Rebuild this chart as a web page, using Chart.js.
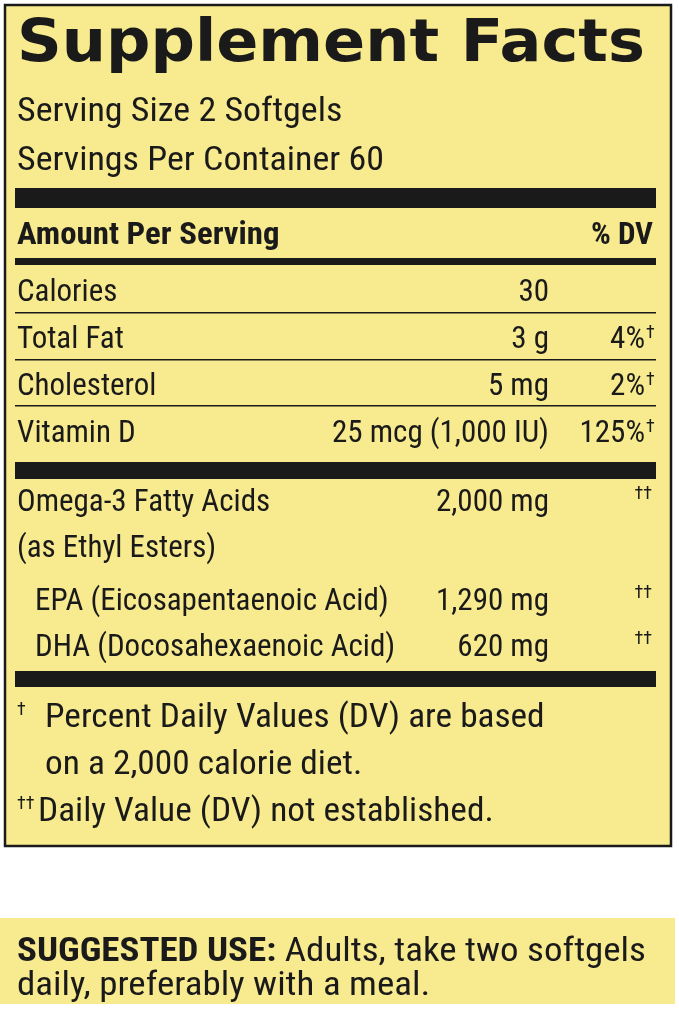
<!DOCTYPE html>
<html><head><meta charset="utf-8">
<script src="https://cdn.jsdelivr.net/npm/chart.js@4"></script>
<style>html,body{margin:0;padding:0;background:#fff}canvas{display:block}</style>
</head><body>
<canvas id="c" width="679" height="1034"></canvas>
<script>
const title = 'Supplement Facts';
const servingLines = ['Serving Size 2 Softgels', 'Servings Per Container 60'];
const headerLeft = 'Amount Per Serving';
const headerRight = '% DV';
const nutrients = ['Calories', 'Total Fat', 'Cholesterol', 'Vitamin D'];
const amounts = ['30', '3 g', '5 mg', '25 mcg (1,000 IU)'];
const dvValues = ['', '4%', '2%', '125%'];
const dvMarks = ['', '†', '†', '†'];
const omegaNames = ['Omega-3 Fatty Acids', '(as Ethyl Esters)', 'EPA (Eicosapentaenoic Acid)', 'DHA (Docosahexaenoic Acid)'];
const omegaAmounts = ['2,000 mg', '', '1,290 mg', '620 mg'];
const omegaMarks = ['††', '', '††', '††'];
const footnotes = [['†', 'Percent Daily Values (DV) are based'], ['', 'on a 2,000 calorie diet.'], ['††', 'Daily Value (DV) not established.']];
const useLines = [['SUGGESTED USE:', ' Adults, take two softgels'], ['', 'daily, preferably with a meal.']];

const F = '"Liberation Sans Narrow","Roboto Condensed",Roboto,sans-serif';
const labelPlugin = {
  id: 'label',
  beforeDraw(chart) {
    const ctx = chart.ctx, xs = chart.scales.x, ys = chart.scales.y;
    const X = v => xs.getPixelForValue(v), Y = v => ys.getPixelForValue(v);
    ctx.save();
    ctx.fillStyle = '#fff'; ctx.fillRect(0, 0, 679, 1034);
    ctx.fillStyle = '#f8ea8e';
    ctx.fillRect(X(5), Y(5), X(671) - X(5), Y(846) - Y(5));
    ctx.strokeStyle = '#1a1a1a'; ctx.lineWidth = 2.5;
    ctx.strokeRect(X(5), Y(5), X(671) - X(5), Y(846) - Y(5));
    ctx.fillStyle = '#f8ea8e';
    ctx.fillRect(X(0), Y(918), X(675) - X(0), Y(1004) - Y(918));
    ctx.fillStyle = '#1a1a1a';
    const bar = (y, h) => ctx.fillRect(X(15), Y(y), X(656) - X(15), h);
    bar(188, 20); bar(258, 7); bar(312, 1.5); bar(359, 1.5); bar(405, 1.5); bar(462, 17); bar(671, 16);
    ctx.textBaseline = 'middle';
    const txt = (s, x, y, font, align, k) => {
      ctx.font = font; ctx.textAlign = align || 'left';
      ctx.save(); ctx.translate(X(x), Y(y)); ctx.scale(k || 1, 1); ctx.fillText(s, 0, 0); ctx.restore();
      return ctx.measureText(s).width * (k || 1);
    };
    ctx.save(); ctx.font = '900 58px "DejaVu Sans",sans-serif';
    const tw = ctx.measureText(title).width; ctx.translate(X(17), Y(46)); ctx.scale(628 / tw, 1);
    ctx.textAlign = 'left'; ctx.fillText(title, 0, 0); ctx.restore();
    const body = '31px ' + F, bold = 'bold 31px ' + F;
    const big = '33px ' + F, bigBold = 'bold 33px ' + F;
    servingLines.forEach((s, i) => txt(s, 17, 113 + i * 49, big, 'left', 1.09));
    txt(headerLeft, 17, 236, bold, 'left', 1.06); txt(headerRight, 653, 236, bold, 'right');
    nutrients.forEach((n, i) => {
      const y = 293 + i * 47;
      txt(n, 17, y, body);
      txt(amounts[i], 549, y, body, 'right');
      txt(dvValues[i], 645, y, body, 'right');
      txt(dvMarks[i], 646, y - 7, '18px ' + F, 'left');
    });
    omegaNames.forEach((n, i) => {
      const y = [503, 549, 602, 648][i];
      txt(n, i >= 2 ? 35 : 17, y, body);
      txt(omegaAmounts[i], 549, y, body, 'right');
      txt(omegaMarks[i], 652, y - 9, '18px ' + F, 'right');
    });
    footnotes.forEach((f, i) => {
      const y = 719 + i * 47;
      txt(f[0], 17, y - 9, '18px ' + F);
      txt(f[1], i === 2 ? 38 : 45, y, big, 'left', 1.07);
    });
    useLines.forEach((l, i) => {
      const y = 953 + i * 34;
      const w = l[0] ? txt(l[0], 17, y, bigBold, 'left', 1.12) : 0;
      txt(l[1], 17 + w, y, big, 'left', 1.12);
    });
    ctx.restore();
  }
};
new Chart(document.getElementById('c'), {
  type: 'scatter',
  data: { datasets: [{ data: [] }] },
  options: {
    responsive: false, animation: false, layout: { padding: 0 },
    plugins: { legend: { display: false }, tooltip: { enabled: false } },
    scales: {
      x: { type: 'linear', min: 0, max: 679, display: false },
      y: { type: 'linear', min: 0, max: 1034, reverse: true, display: false }
    }
  },
  plugins: [labelPlugin]
});
</script>
</body></html>
